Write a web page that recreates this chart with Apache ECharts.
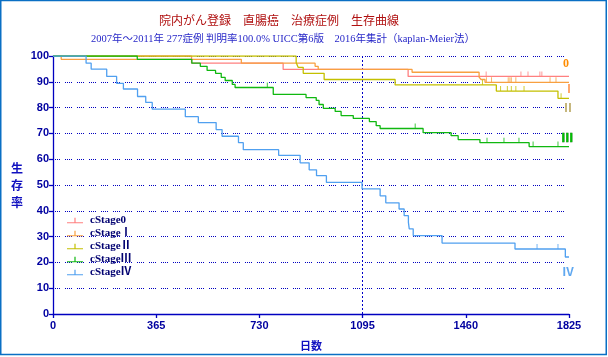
<!DOCTYPE html>
<html>
<head>
<meta charset="utf-8">
<script src="https://cdn.jsdelivr.net/npm/echarts@6/dist/echarts.min.js"></script>
<style>
html,body{margin:0;padding:0;background:#fff;}
#chart{width:608px;height:357px;}
</style>
</head>
<body>
<div id="chart"></div>
<script>
// ---- data (days, survival %) ----
var stageNames = ['cStage0', 'cStageⅠ', 'cStageⅡ', 'cStageⅢ', 'cStageⅣ'];
var xTicks = [0, 365, 730, 1095, 1460, 1825];
var yTicks = [0, 10, 20, 30, 40, 50, 60, 70, 80, 90, 100];

var s0Days = [0, 490, 814, 1256, 1825];
var s0Surv = [100, 97.2, 94.8, 92.1, 92.1];
var s0Censor = [1532, 1655, 1680, 1722, 1729];

var s1Days = [0, 29, 666, 927, 938, 1270, 1507, 1514, 1528, 1825];
var s1Surv = [100, 98.7, 97.2, 96.0, 94.8, 93.7, 91.8, 90.9, 89.8, 89.8];
var s1Censor = [1533, 1551, 1610, 1616, 1621, 1637, 1758, 1779];

var s2Days = [0, 860, 867, 885, 959, 1210, 1568, 1786, 1825];
var s2Surv = [100, 97.5, 95.6, 93.3, 90.9, 88.8, 86.4, 83.6, 83.6];
var s2Censor = [1519, 1583, 1607, 1621, 1637, 1666, 1797];

var s3Days = [0, 298, 491, 521, 545, 575, 595, 609, 634, 644, 779, 895, 931, 941, 956, 998, 1019, 1062, 1119, 1143, 1157, 1309, 1408, 1433, 1510, 1684, 1825];
var s3Surv = [100, 98.7, 97.2, 96.0, 94.4, 93.3, 91.7, 90.5, 89.0, 87.8, 85.1, 83.9, 82.8, 81.2, 79.7, 78.5, 76.9, 75.8, 74.6, 73.0, 71.9, 70.3, 69.1, 67.6, 66.4, 64.9, 64.9];
var s3Censor = [758, 1281, 1535, 1595, 1648, 1698, 1786];

var s4Days = [0, 117, 135, 190, 225, 249, 299, 328, 351, 468, 514, 577, 598, 656, 673, 798, 874, 906, 932, 967, 1093, 1157, 1177, 1224, 1242, 1257, 1260, 1274, 1376, 1634, 1812, 1825];
var s4Surv = [100, 97.2, 94.9, 92.1, 89.4, 87.2, 84.3, 82.0, 79.4, 76.5, 74.2, 71.5, 68.9, 66.4, 63.7, 61.5, 58.6, 55.9, 53.6, 51.0, 48.5, 45.8, 43.1, 40.7, 38.1, 35.5, 33.0, 30.4, 27.5, 25.2, 22.1, 22.1];
var s4Censor = [1712, 1786];

var colors = ['#ff8080', '#f8a040', '#c4c000', '#10b810', '#50a0f0'];

// ---- build ----
var allDays = [s0Days, s1Days, s2Days, s3Days, s4Days];
var allSurv = [s0Surv, s1Surv, s2Surv, s3Surv, s4Surv];
var allCensor = [s0Censor, s1Censor, s2Censor, s3Censor, s4Censor];

function pairs(d, s) { return d.map(function (x, i) { return [x, s[i]]; }); }
function survAt(d, s, t) {
  var v = s[0];
  for (var i = 0; i < d.length; i++) { if (d[i] <= t) v = s[i]; }
  return v;
}

var series = [];
stageNames.forEach(function (name, k) {
  var ser = {
    name: name,
    type: 'line',
    step: 'end',
    symbol: 'none',
    data: pairs(allDays[k], allSurv[k]),
    lineStyle: { color: colors[k], width: 1.3 },
    itemStyle: { color: colors[k] },
    z: 3 + k,
    animation: false
  };
  if (k === 0) {
    ser.markLine = {
      silent: true,
      symbol: 'none',
      label: { show: false },
      lineStyle: { color: '#0000c8', type: [2, 2], width: 1 },
      data: [{ xAxis: 1095 }],
      z: 1
    };
  }
  series.push(ser);
});
stageNames.forEach(function (name, k) {
  series.push({
    name: name + '-censor',
    type: 'scatter',
    symbol: 'rect',
    symbolSize: [1, 5],
    symbolOffset: [0, -2.5],
    itemStyle: { color: colors[k] },
    data: allCensor[k].map(function (t) { return [t, survAt(allDays[k], allSurv[k], t)]; }),
    z: 3 + k,
    silent: true,
    animation: false
  });
});

var titleFont = "'Liberation Serif', 'Noto Sans CJK JP', serif";
var boldSans = "'Liberation Sans', Arial, sans-serif";

var option = {
  backgroundColor: '#ffffff',
  animation: false,
  grid: { left: 53, right: 39, top: 56, bottom: 43, containLabel: false },
  title: [
    {
      text: '院内がん登録　直腸癌　治療症例　生存曲線',
      left: 154, top: 11,
      textStyle: { color: '#b01010', fontSize: 12, fontWeight: 'normal', fontFamily: titleFont }
    },
    {
      text: '2007年～2011年 277症例 判明率100.0% UICC第6版　2016年集計（kaplan-Meier法）',
      left: 86, top: 29,
      textStyle: { color: '#2828c8', fontSize: 10.5, fontWeight: 'normal', fontFamily: titleFont }
    }
  ],
  legend: {
    data: stageNames,
    orient: 'vertical',
    left: 62, top: 210,
    itemWidth: 16, itemHeight: 8, itemGap: 2,
    icon: 'path://M0,6.5h16v1.2h-16zM7.4,2h1.2v5h-1.2z',
    textStyle: { color: '#000070', fontSize: 11, fontWeight: 'bold', fontFamily: "'Liberation Serif', 'Noto Sans CJK JP', serif", lineHeight: 11, padding: [0, 0, 0, 2] },
    selectedMode: false
  },
  xAxis: {
    type: 'value',
    min: 0, max: 1825, interval: 365,
    name: '日数',
    nameLocation: 'middle',
    nameGap: 26,
    nameTextStyle: { color: '#1010c0', fontSize: 11, fontWeight: 'bold', fontFamily: "'Noto Sans CJK JP', sans-serif" },
    axisLine: { show: true, onZero: false, lineStyle: { color: '#0000c0', width: 1.3 } },
    axisTick: { show: true, length: 4, lineStyle: { color: '#0000c0', width: 1.3 } },
    axisLabel: {
      color: '#0000a0', fontSize: 11, fontWeight: 'bold', fontFamily: boldSans, margin: 6,
      formatter: function (v) { return xTicks.indexOf(v) >= 0 ? String(v) : ''; }
    },
    splitLine: { show: false }
  },
  yAxis: {
    type: 'value',
    min: 0, max: 100, interval: 10,
    name: '生\n存\n率',
    nameLocation: 'middle',
    nameRotate: 0,
    nameGap: 30,
    nameTextStyle: { color: '#1010c0', fontSize: 12, fontWeight: 'bold', lineHeight: 17, fontFamily: "'Noto Sans CJK JP', sans-serif" },
    axisLine: { show: true, lineStyle: { color: '#0000c0', width: 1.3 } },
    axisTick: { show: true, length: 4, lineStyle: { color: '#0000c0', width: 1.3 } },
    axisLabel: {
      color: '#0000a0', fontSize: 11, fontWeight: 'bold', fontFamily: boldSans, margin: 4,
      formatter: function (v) { return yTicks.indexOf(v) >= 0 ? String(v) : ''; }
    },
    splitLine: { show: true, lineStyle: { color: '#0000c0', type: [1, 1, 1, 1, 1, 1, 1, 5], width: 1 } }
  },
  series: series,
  graphic: [
    { type: 'rect', shape: { x: 0.75, y: 0.5, width: 605.5, height: 354 }, style: { fill: 'none', stroke: '#0a6fc4', lineWidth: 1.5 }, silent: true, z: 100 },
    { type: 'text', left: 563, top: 58, style: { text: '0', fill: '#ff8c00', font: "bold 12px 'Liberation Serif', serif" }, z: 50 },
    { type: 'text', left: 563, top: 84, style: { text: 'Ⅰ', fill: '#ffa060', font: "bold 12px 'Liberation Serif', 'Noto Sans CJK JP', serif" }, z: 50 },
    { type: 'text', left: 562, top: 103, style: { text: 'Ⅱ', fill: '#c0b070', font: "bold 12px 'Liberation Serif', 'Noto Sans CJK JP', serif" }, z: 50 },
    { type: 'text', left: 561, top: 133, style: { text: 'Ⅲ', fill: '#00c000', stroke: '#006000', lineWidth: 0.5, font: "bold 12px 'Liberation Serif', 'Noto Sans CJK JP', serif" }, z: 50 },
    { type: 'text', left: 562, top: 267, style: { text: 'Ⅳ', fill: '#60a8f0', font: "bold 12px 'Liberation Serif', 'Noto Sans CJK JP', serif" }, z: 50 }
  ]
};

var chart = echarts.init(document.getElementById('chart'), null, { renderer: 'canvas' });
chart.setOption(option);
</script>
</body>
</html>
